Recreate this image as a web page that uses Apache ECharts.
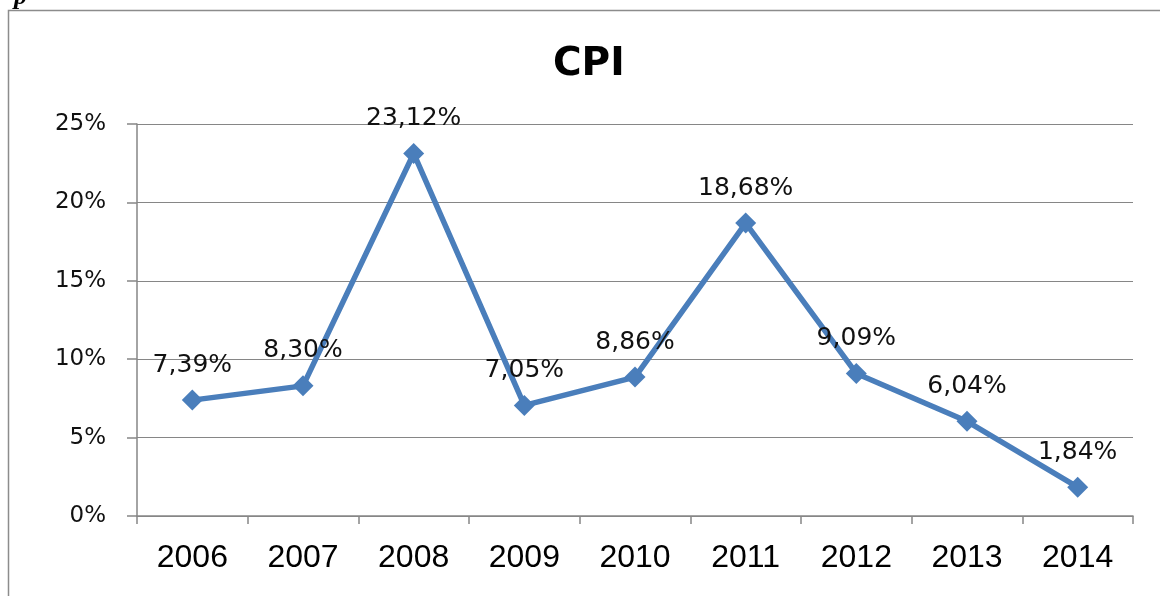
<!DOCTYPE html>
<html>
<head>
<meta charset="utf-8">
<script src="https://cdn.jsdelivr.net/npm/echarts@6/dist/echarts.min.js"></script>
<style>
html,body{margin:0;padding:0;background:#fff;}
#chart{width:1160px;height:596px;}
</style>
</head>
<body>
<div id="chart"></div>
<script>
var categories = ['2006','2007','2008','2009','2010','2011','2012','2013','2014'];
var cpiValues = [7.39, 8.30, 23.12, 7.05, 8.86, 18.68, 9.09, 6.04, 1.84];
var yTicks = [0, 5, 10, 15, 20, 25];

var chart = echarts.init(document.getElementById('chart'), null, {renderer: 'canvas'});
var option = {
  backgroundColor: '#ffffff',
  animation: false,
  title: {
    text: 'CPI',
    left: 548,
    top: 40,
    textStyle: {fontFamily: 'DejaVu Sans', fontWeight: 'bold', fontSize: 39, color: '#000'}
  },
  graphic: [
    {type: 'rect', shape: {x: 8.5, y: 10.5, width: 1170, height: 600},
     style: {fill: 'none', stroke: '#8c8c8c', lineWidth: 1.5}},
    {type: 'text', left: 14, top: -16,
     style: {text: 'p', font: 'italic bold 26px "Liberation Serif"', fill: '#000'}}
  ],
  grid: {left: 137, top: 124, right: 27, bottom: 80, containLabel: false},
  xAxis: {
    type: 'category',
    data: categories,
    boundaryGap: true,
    axisLine: {lineStyle: {color: '#868686', width: 1.5}},
    axisTick: {show: true, length: 8, alignWithLabel: false, lineStyle: {color: '#868686', width: 1.5}},
    axisLabel: {margin: 26, fontFamily: 'Liberation Sans', fontSize: 32, color: '#000'}
  },
  yAxis: {
    type: 'value',
    min: yTicks[0],
    max: yTicks[yTicks.length - 1],
    interval: 5,
    axisLine: {show: true, lineStyle: {color: '#868686', width: 1.5}},
    axisTick: {show: true, length: 10, lineStyle: {color: '#868686', width: 1.5}},
    splitLine: {lineStyle: {color: '#868686', width: 1.2}},
    axisLabel: {margin: 31, fontFamily: 'DejaVu Sans', fontSize: 23, color: '#111',
      formatter: function (v) { return v + '%'; }}
  },
  series: [{
    type: 'line',
    data: cpiValues,
    symbol: 'diamond',
    symbolSize: 21,
    itemStyle: {color: '#4a7ebb'},
    lineStyle: {color: '#4a7ebb', width: 5.5},
    label: {
      show: true,
      position: 'top',
      distance: 12,
      fontFamily: 'DejaVu Sans',
      fontSize: 25,
      color: '#111',
      formatter: function (p) { return p.value.toFixed(2).replace('.', ',') + '%'; }
    }
  }]
};
chart.setOption(option);
</script>
</body>
</html>
